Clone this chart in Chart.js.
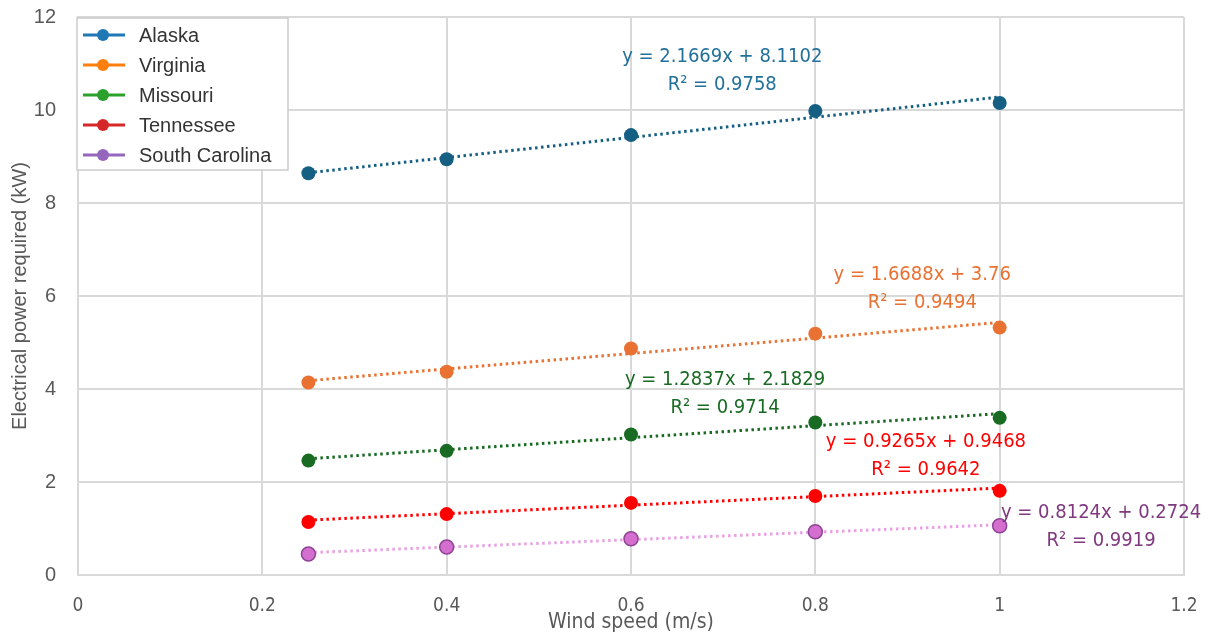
<!DOCTYPE html>
<html>
<head>
<meta charset="utf-8">
<script src="https://cdn.jsdelivr.net/npm/chart.js@4/dist/chart.umd.min.js"></script>
<style>
  html, body { margin: 0; padding: 0; background: #fff; }
  #wrap { width: 1212px; height: 640px; position: relative; }
</style>
</head>
<body>
<div id="wrap"><canvas id="powerChart"></canvas></div>
<script>
// wind speed (m/s)
const windSpeeds = [0.25, 0.4, 0.6, 0.8, 1.0];

const states = ['Alaska', 'Virginia', 'Missouri', 'Tennessee', 'South Carolina'];

// electrical power required (kW)
const alaska = [8.64, 8.94, 9.46, 9.98, 10.15];
const virginia = [4.14, 4.37, 4.87, 5.19, 5.32];
const missouri = [2.46, 2.67, 3.02, 3.28, 3.38];
const tennessee = [1.14, 1.31, 1.55, 1.70, 1.81];
const southCarolina = [0.45, 0.60, 0.78, 0.93, 1.06];

// trendline end values at x = 0.25 and x = 1
const trendX = [0.25, 1.0];
const alaskaTrend = [8.65, 10.28];
const virginiaTrend = [4.18, 5.43];
const missouriTrend = [2.50, 3.47];
const tennesseeTrend = [1.18, 1.87];
const southCarolinaTrend = [0.48, 1.08];

const equations = ['y = 2.1669x + 8.1102', 'y = 1.6688x + 3.76', 'y = 1.2837x + 2.1829',
                   'y = 0.9265x + 0.9468', 'y = 0.8124x + 0.2724'];
const rSquared = ['R\u00B2 = 0.9758', 'R\u00B2 = 0.9494', 'R\u00B2 = 0.9714',
                  'R\u00B2 = 0.9642', 'R\u00B2 = 0.9919'];
// label anchor in data units
const labelX = [0.699, 0.916, 0.702, 0.920, 1.110];
const labelY = [11.14, 6.45, 4.19, 2.86, 1.33];

const xTicks = [0, 0.2, 0.4, 0.6, 0.8, 1, 1.2];
const yTicks = [0, 2, 4, 6, 8, 10, 12];

const seriesValues = [alaska, virginia, missouri, tennessee, southCarolina];
const trendValues = [alaskaTrend, virginiaTrend, missouriTrend, tennesseeTrend, southCarolinaTrend];

const markerFill = ['#156082', '#e97132', '#196b24', '#ff0000', '#d46fcf'];
const markerBorder = ['#156082', '#e97132', '#196b24', '#ff0000', '#8e4496'];
const trendColor = ['#156082', '#e97132', '#196b24', '#ff0000', '#e8a2e3'];
const labelColor = ['#23709a', '#e97132', '#196b24', '#ff0000', '#80387f'];
const legendColor = ['#1f77b4', '#ff7f0e', '#2ca02c', '#d62728', '#9467bd'];

const narrowFont = "'Liberation Sans Narrow', 'DejaVu Sans Condensed', 'Roboto', sans-serif";
const mainFont = "'Liberation Sans', Arial, sans-serif";

const datasets = [];
states.forEach((name, i) => {
    datasets.push({
        label: name + ' trend',
        data: trendX.map((x, k) => ({x: x, y: trendValues[i][k]})),
        showLine: true,
        borderColor: trendColor[i],
        borderWidth: 3,
        borderDash: [2.5, 3.5],
        pointRadius: 0,
        fill: false,
        order: 2
    });
    datasets.push({
        label: name,
        data: windSpeeds.map((x, k) => ({x: x, y: seriesValues[i][k]})),
        showLine: false,
        backgroundColor: markerFill[i],
        borderColor: markerBorder[i],
        borderWidth: i === 4 ? 1.5 : 0,
        pointRadius: 7,
        order: 1
    });
});

// trendline equations
const equationLabels = {
    id: 'equationLabels',
    afterDatasetsDraw(chart) {
        const {ctx, scales: {x, y}} = chart;
        ctx.save();
        ctx.font = '20px ' + narrowFont;
        ctx.textAlign = 'center';
        ctx.textBaseline = 'middle';
        equations.forEach((eq, i) => {
            const px = x.getPixelForValue(labelX[i]);
            const py = y.getPixelForValue(labelY[i]);
            ctx.fillStyle = labelColor[i];
            ctx.fillText(eq, px, py);
            ctx.fillText(rSquared[i], px, py + 28);
        });
        ctx.restore();
    }
};

// legend box in the top left corner
const cornerLegend = {
    id: 'cornerLegend',
    afterDraw(chart) {
        const {ctx, chartArea} = chart;
        const left = chartArea.left - 1, top = chartArea.top + 1;
        ctx.save();
        ctx.fillStyle = '#ffffff';
        ctx.strokeStyle = '#cccccc';
        ctx.lineWidth = 1.5;
        ctx.fillRect(left, top, 211, 152);
        ctx.strokeRect(left, top, 211, 152);
        ctx.font = '20px ' + mainFont;
        ctx.textBaseline = 'middle';
        ctx.textAlign = 'left';
        states.forEach((name, i) => {
            const cy = top + 17 + i * 30;
            ctx.strokeStyle = legendColor[i];
            ctx.lineWidth = 3;
            ctx.beginPath();
            ctx.moveTo(left + 6, cy);
            ctx.lineTo(left + 48, cy);
            ctx.stroke();
            ctx.fillStyle = legendColor[i];
            ctx.beginPath();
            ctx.arc(left + 26, cy, 6, 0, Math.PI * 2);
            ctx.fill();
            ctx.fillStyle = '#333333';
            ctx.fillText(name, left + 62, cy + 1);
        });
        ctx.restore();
    }
};

const ctx = document.getElementById('powerChart').getContext('2d');
const powerChart = new Chart(ctx, {
    type: 'scatter',
    data: { datasets: datasets },
    options: {
        responsive: true,
        maintainAspectRatio: false,
        animation: false,
        layout: { padding: { top: 17, right: 28, left: 0, bottom: 0 } },
        scales: {
            x: {
                type: 'linear',
                min: 0,
                max: 1.2,
                afterBuildTicks: (scale) => { scale.ticks = xTicks.map(v => ({value: v})); },
                afterFit: (scale) => {
                    scale.height = 65;
                    scale.paddingLeft = 0;
                    scale.paddingRight = 0;
                },
                grid: { color: '#d9d9d9', lineWidth: 2, drawTicks: false },
                border: { color: '#d9d9d9', width: 2 },
                ticks: {
                    padding: 20,
                    color: '#595959',
                    font: { family: narrowFont, size: 19 },
                    callback: (v) => String(v)
                },
                title: {
                    display: true,
                    text: 'Wind speed (m/s)',
                    color: '#595959',
                    font: { family: narrowFont, size: 21 },
                    padding: { top: 0, bottom: 5 }
                }
            },
            y: {
                min: 0,
                max: 12,
                afterBuildTicks: (scale) => { scale.ticks = yTicks.map(v => ({value: v})); },
                afterFit: (scale) => {
                    scale.width = 78;
                    scale.paddingTop = 0;
                    scale.paddingBottom = 0;
                },
                grid: { color: '#d9d9d9', lineWidth: 2, drawTicks: false },
                border: { color: '#d9d9d9', width: 2 },
                ticks: {
                    padding: 22,
                    color: '#595959',
                    font: { family: mainFont, size: 20 }
                },
                title: {
                    display: true,
                    text: 'Electrical power required (kW)',
                    color: '#595959',
                    font: { family: mainFont, size: 20 },
                    padding: { top: 8, bottom: 0 }
                }
            }
        },
        plugins: {
            legend: { display: false },
            tooltip: { enabled: false }
        }
    },
    plugins: [equationLabels, cornerLegend]
});
</script>
</body>
</html>
